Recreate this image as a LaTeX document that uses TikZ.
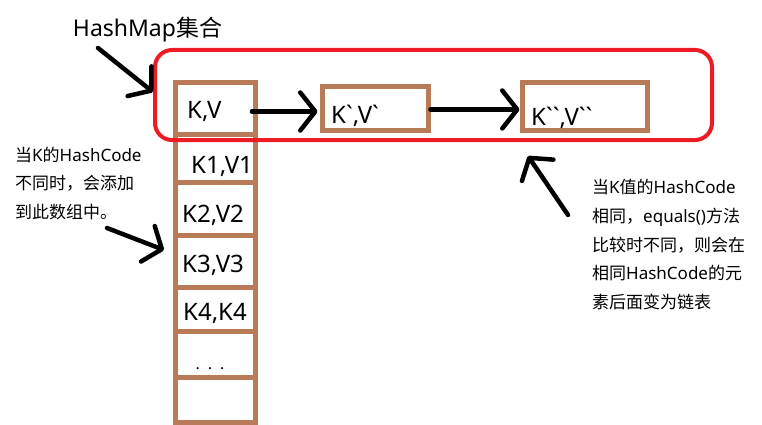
\documentclass[tikz,border=0pt]{standalone}
\usepackage{fontspec}
\setmainfont{Noto Sans}
\newfontfamily\rawf{Noto Sans}[Ligatures=TeXOff]
\newfontfamily\cjk{Noto Sans CJK SC}
\newcommand\zh[1]{{\cjk #1}}
\newcommand\bq{{\rawf`}}
\usetikzlibrary{arrows.meta,calc}
\definecolor{mapred}{HTML}{ED1C24}
\definecolor{cellbrown}{HTML}{B97A57}
\begin{document}
\begin{tikzpicture}[x=1pt,y=-1pt,
  cell/.style={draw=cellbrown,line width=5pt,minimum width=80.5pt,inner sep=0pt},
  celltext/.style={anchor=base west,inner sep=0pt,font=\fontsize{24}{26}\selectfont},
  handarrow/.style={line width=4.5pt,line cap=round,-{Straight Barb[length=15pt,width=38pt,round]}},
  note/.style={align=left,anchor=north west,inner sep=0pt,font=\fontsize{17}{28.8}\selectfont}]
\useasboundingbox (0,0) rectangle (762,425);
% column cells
\node[cell,minimum height=51pt] (kv) at (215.25,108.5) {};
\node[cell,minimum height=48pt] (k1) at (215.25,158) {};
\node[cell,minimum height=53pt] (k2) at (215.25,208.5) {};
\node[cell,minimum height=52pt] (k3) at (215.25,261) {};
\node[cell,minimum height=44pt] (k4) at (215.25,309) {};
\node[cell,minimum height=46pt] (k5) at (215.25,354) {};
\node[cell,minimum height=45pt] (k6) at (215.25,399.5) {};
\node[celltext] (tkv) at (187,118) {K,V};
\node[celltext] (tk1) at (191,173) {K1,V1};
\node[celltext] (tk2) at (182,222) {K2,V2};
\node[celltext] (tk3) at (182,272) {K3,V3};
\node[celltext] (tk4) at (183,320) {K4,K4};
\node[font=\fontsize{16}{18}\selectfont,inner sep=0pt] (dots) at (210,369) {.\hspace{8pt}.\hspace{8pt}.};
% chain boxes
\node[cell,minimum width=106pt,minimum height=43pt] (kvp) at (375,108.5) {};
\node[cell,minimum width=125.5pt,minimum height=48pt] (kvpp) at (584.75,106.5) {};
\node[celltext] (tkvp) at (331,123) {K\bq,V\bq};
\node[celltext] (tkvpp) at (531,125) {K\bq\bq,V\bq\bq};
% red map frame
\node[draw=mapred,line width=4pt,rounded corners=17pt,minimum width=557pt,minimum height=90pt,inner sep=0pt] (map) at (433.5,95) {};
% title and notes
\node[inner sep=0pt,font=\fontsize{23}{26}\selectfont] (title) at (147.5,30) {HashMap\zh{集合}};
\node[note] (note1) at (15,146.5) {\zh{当}K\zh{的}HashCode\\\zh{不同时，会添加}\\\zh{到此数组中。}};
\node[note] (note2) at (592,179) {\zh{当}K\zh{值的}HashCode\\\zh{相同，}equals()\zh{方法}\\\zh{比较时不同，则会在}\\\zh{相同}HashCode\zh{的元}\\\zh{素后面变为链表}};
% arrows
\coordinate (t1) at (98,48);
\coordinate (t2) at (153,92);
\coordinate (l1) at (107,228);
\coordinate (l2) at (164,250);
\coordinate (r1) at (568,215);
\coordinate (r2) at (528,156);
\draw[handarrow] ($(kv.east)+(-6,3)$) -- ($(kvp.west)+(-2,3)$);
\draw[handarrow] ($(kvp.east)+(0,1)$) -- ($(kvpp.west)+(0,3)$);
\draw[handarrow] (t1) -- (t2);
\draw[handarrow] (l1) -- (l2);
\draw[handarrow] (r1) -- (r2);
\end{tikzpicture}
\end{document}
